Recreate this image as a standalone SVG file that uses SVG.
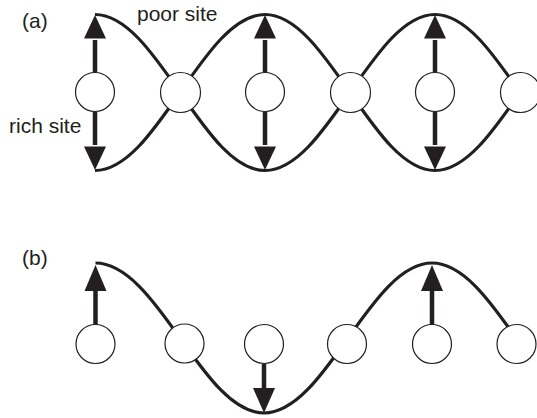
<svg xmlns="http://www.w3.org/2000/svg" width="537" height="418" viewBox="0 0 537 418">
  <style>
    .wave { fill: none; stroke: #231f20; stroke-width: 3.2; stroke-linecap: butt; }
    .site { fill: #fff; stroke: #231f20; stroke-width: 1.2; }
    .shaft { stroke: #231f20; stroke-width: 4.5; }
    .head { fill: #231f20; }
    .lbl { font-family: "Liberation Sans", Arial, sans-serif; font-size: 21px; fill: #231f20; }
  </style>

  <rect width="537" height="418" fill="#fff"/>

  <!-- panel (a): standing wave, two envelopes crossing at the nodes -->
  <g id="connectors-a">
    <path class="wave" d="M95,14.5 C125.6,14.5 152.3,52.5 180,92.5 C207.7,132.5 234.4,170.5 265,170.5 C295.6,170.5 322.3,132.5 350,92.5 C377.7,52.5 404.4,14.5 435,14.5 C465.6,14.5 492.3,52.5 520,92.5"/>
    <path class="wave" d="M95,170.5 C125.6,170.5 152.3,132.5 180,92.5 C207.7,52.5 234.4,14.5 265,14.5 C295.6,14.5 322.3,52.5 350,92.5 C377.7,132.5 404.4,170.5 435,170.5 C465.6,170.5 492.3,132.5 520,92.5"/>
    <!-- displacement arrows on the antinodes -->
    <line class="shaft" x1="95" y1="72" x2="95" y2="40"/>
    <polygon class="head" points="95,15 84,38.5 106,38.5"/>
    <line class="shaft" x1="95" y1="112" x2="95" y2="145"/>
    <polygon class="head" points="95,170 84,146.5 106,146.5"/>
    <line class="shaft" x1="265" y1="72" x2="265" y2="40"/>
    <polygon class="head" points="265,15 254,38.5 276,38.5"/>
    <line class="shaft" x1="265" y1="112" x2="265" y2="145"/>
    <polygon class="head" points="265,170 254,146.5 276,146.5"/>
    <line class="shaft" x1="435" y1="72" x2="435" y2="40"/>
    <polygon class="head" points="435,15 424,38.5 446,38.5"/>
    <line class="shaft" x1="435" y1="112" x2="435" y2="145"/>
    <polygon class="head" points="435,170 424,146.5 446,146.5"/>
  </g>

  <g id="site-a1"><circle class="site" cx="95" cy="92" r="19.5"/></g>
  <g id="site-a2"><circle class="site" cx="180.5" cy="92.5" r="20"/></g>
  <g id="site-a3"><circle class="site" cx="265" cy="92" r="19.5"/></g>
  <g id="site-a4"><circle class="site" cx="350.5" cy="92.5" r="20"/></g>
  <g id="site-a5"><circle class="site" cx="435" cy="92" r="19.5"/></g>
  <g id="site-a6"><circle class="site" cx="520.5" cy="92.5" r="20"/></g>

  <g id="labels-a">
    <text class="lbl" x="22" y="28">(a)</text>
    <text class="lbl" x="137" y="21">poor site</text>
    <text class="lbl" x="9" y="133">rich site</text>
  </g>

  <!-- panel (b): travelling wave snapshot -->
  <g id="connectors-b">
    <path class="wave" d="M95.5,263 C125.9,263 152.8,299.4 180,338 C207.2,376.6 233.6,413 264,413 C294.4,413 320.8,376.6 348,338 C375.2,299.4 401.6,263 432,263 C462.4,263 489,299.4 516,338"/>
    <line class="shaft" x1="95.5" y1="325" x2="95.5" y2="290"/>
    <polygon class="head" points="95.5,265 84.5,291 106.5,291"/>
    <line class="shaft" x1="264" y1="364" x2="264" y2="390"/>
    <polygon class="head" points="264,413 253,388 275,388"/>
    <line class="shaft" x1="432" y1="325" x2="432" y2="290"/>
    <polygon class="head" points="432,265 421,291 443,291"/>
  </g>

  <g id="site-b1"><circle class="site" cx="95.5" cy="344" r="19.5"/></g>
  <g id="site-b2"><circle class="site" cx="184.5" cy="343.5" r="19.5"/></g>
  <g id="site-b3"><circle class="site" cx="264" cy="344" r="19.5"/></g>
  <g id="site-b4"><circle class="site" cx="347" cy="344" r="19.5"/></g>
  <g id="site-b5"><circle class="site" cx="432" cy="344" r="19.5"/></g>
  <g id="site-b6"><circle class="site" cx="516.5" cy="344" r="19.5"/></g>

  <g id="labels-b">
    <text class="lbl" x="22" y="265">(b)</text>
  </g>
</svg>
